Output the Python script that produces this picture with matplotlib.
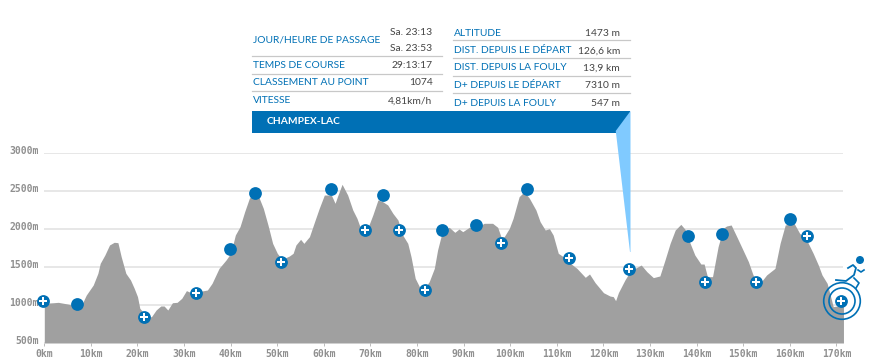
import matplotlib
matplotlib.use('Agg')
import matplotlib.pyplot as plt
from matplotlib.transforms import Bbox, ScaledTranslation

W, H = 871, 364

# Profil altimetrique (km, m)
km = [0, 2, 3, 5, 6.5, 8, 9, 10.5, 11.5, 12, 13, 14, 15, 15.8, 16.5, 17.5, 18.5, 19.3, 20, 20.5,
      22, 23, 24, 25, 25.7, 26.5, 27.5, 28.5, 29.5, 30.5, 31.5, 33, 35, 36, 37.5, 39, 40, 41, 42, 43,
      44, 45, 46, 47, 48, 49, 50, 51, 52.6, 53.4, 54, 55, 55.7, 56.9, 58, 59, 60.1, 61.6, 62.4, 62.9,
      63.9, 65.1, 66.2, 67.1, 68, 69.4, 70.5, 71.6, 72.6, 73.7, 74.8, 75.9, 76.9, 78, 78.7, 79.6,
      80.5, 81.6, 82.6, 83.7, 84.4, 85.5, 86.9, 88.1, 89, 89.8, 91.2, 92.6, 94.4, 96.2, 97.3, 98,
      98.7, 99.8, 100.6, 101.9, 103, 104.1, 105.5, 106.4, 107.5, 108.4, 109.2, 110.3, 111.9, 112.9,
      114.3, 116.1, 117, 118.2, 120, 121.4, 122.1, 122.6, 123.2, 124.6, 125.7, 126.8, 128.1, 129.3,
      130.7, 132.1, 133.2, 134.3, 135.4, 136.6, 137.5, 138.6, 139.6, 140.9, 141.6, 142.3, 143.4,
      144.6, 145.7, 146.4, 147.4, 148.6, 149.6, 151.1, 152.1, 153.6, 155, 156.8, 157.9, 159, 160.9,
      162.1, 163.6, 165, 166.1, 166.9, 168, 169.3, 171.5]
alt = [1022, 1030, 1035, 1013, 990, 1000, 1130, 1263, 1417, 1548, 1658, 1790, 1825, 1820, 1636, 1417,
       1329, 1219, 1110, 956, 846, 846, 934, 987, 987, 934, 1030, 1035, 1088, 1189, 1162, 1175, 1197,
       1285, 1482, 1592, 1680, 1921, 2031, 2228, 2404, 2470, 2425, 2272, 2053, 1811, 1680, 1600, 1645,
       1680, 1790, 1864, 1811, 1899, 2096, 2272, 2447, 2447, 2338, 2425, 2588, 2447, 2250, 2140, 1987,
       2009, 2184, 2382, 2360, 2316, 2206, 2118, 1921, 1811, 1636, 1351, 1241, 1219, 1307, 1482, 1724,
       1987, 2022, 1956, 2000, 1965, 2022, 2009, 2075, 2075, 2022, 1899, 1899, 2009, 2140, 2425, 2491,
       2404, 2250, 2096, 1987, 2004, 1921, 1680, 1614, 1548, 1482, 1364, 1408, 1294, 1162, 1118, 1110,
       1057, 1162, 1329, 1439, 1482, 1526, 1439, 1360, 1382, 1592, 1811, 1987, 2061, 1996, 1811, 1658,
       1539, 1539, 1373, 1373, 1768, 2009, 2039, 2053, 1899, 1768, 1570, 1395, 1285, 1395, 1482, 1811,
       2053, 2075, 1943, 1855, 1680, 1526, 1395, 1285, 978, 1000]

# Ravitaillements et points de passage
plus_km = [-0.36, 21.5, 32.5, 50.7, 68.9, 76.2, 81.7, 98.1, 112.6, 125.5, 141.8, 152.7, 163.6, 170.9]
plus_alt = [1053, 846, 1158, 1566, 1987, 1987, 1197, 1816, 1618, 1474, 1303, 1303, 1908, 1053]
solid_km = [7.0, 39.8, 45.3, 61.6, 72.6, 85.4, 92.7, 103.6, 138.2, 145.4, 160]
solid_alt = [1017, 1741, 2478, 2526, 2447, 1987, 2053, 2526, 1908, 1934, 2132]

y_ticks = [500, 1000, 1500, 2000, 2500, 3000]
x_ticks = list(range(0, 171, 10))

left_rows = [('JOUR/HEURE DE PASSAGE', 39), ('TEMPS DE COURSE', 64.3),
             ('CLASSEMENT AU POINT', 82), ('VITESSE', 100)]
left_values = [('Sa. 23:13', 31.7), ('Sa. 23:53', 47.3), ('29:13:17', 64.3), ('1074', 82), ('4,81km/h', 100)]
right_rows = [('ALTITUDE', '1473 m', 32.3), ('DIST. DEPUIS LE DÉPART', '126,6 km', 50),
              ('DIST. DEPUIS LA FOULY', '13,9 km', 67), ('D+ DEPUIS LE DÉPART', '7310 m', 85),
              ('D+ DEPUIS LA FOULY', '547 m', 103)]

BLUE = '#0070b5'
LIGHT = '#80caff'
TXT = '#444444'
GREY = '#a0a0a0'

fig = plt.figure(figsize=(W / 100, H / 100), dpi=100)

# zone du graphique : 0 km a x=44.3 px, 500 m a y=343 px, 3000 m a y=153 px
ax = fig.add_axes([44.3 / W, 1 - 343 / H, (843 - 44.3) / W, 190 / H])
ax.set_xlim(0, 171.4)
ax.set_ylim(500, 3000)
ax.fill_between(km, alt, 500, color=GREY, lw=0, zorder=2)
ax.set_yticks(y_ticks)
ax.set_yticklabels([f'{v}m' for v in y_ticks])
ax.set_xticks(x_ticks)
ax.set_xticklabels([f'{v}km' for v in x_ticks])
ax.grid(axis='y', color='#e0e0e0', lw=1.1, zorder=1)
ax.set_axisbelow(True)
for s in ax.spines.values():
    s.set_visible(False)
ax.tick_params(axis='y', length=0, pad=4, labelsize=7, labelcolor='#909090')
ax.tick_params(axis='x', length=2, width=0.7, color='#bbbbbb', pad=2.5, labelsize=7, labelcolor='#909090')
clip = Bbox([[0, 0], [851, H]])
for lab in ax.get_xticklabels() + ax.get_yticklabels():
    lab.set_family('DejaVu Sans Mono')
    lab.set_weight('bold')
lift = ScaledTranslation(0, 0.027, fig.dpi_scale_trans)
for lab in ax.get_yticklabels():
    lab.set_transform(lab.get_transform() + lift)
for lab in ax.get_xticklabels():
    lab.set_clip_on(True)
    lab.set_clip_box(clip)

ax.plot(solid_km, solid_alt, 'o', color=BLUE, ms=9.2, mew=0, clip_on=False, zorder=5)
ax.plot(plus_km, plus_alt, 'o', color=BLUE, ms=9.2, mew=0, clip_on=False, zorder=5)
ax.plot(plus_km, plus_alt, 'P', color='white', ms=6, mew=0, clip_on=False, zorder=7)

# panneau d'information, coordonnees en pixels
ov = fig.add_axes([0, 0, 1, 1])
ov.set_xlim(0, W)
ov.set_ylim(H, 0)
ov.axis('off')
ov.patch.set_alpha(0)

font = dict(family='Lato', fontsize=7.4, va='center')
for label, y in left_rows:
    ov.text(253, y + 0.8, label, color=BLUE, ha='left', **font)
for value, y in left_values:
    ov.text(432.5, y + 0.8, value, color=TXT, ha='right', **font)
for label, value, y in right_rows:
    ov.text(453.5, y + 0.8, label, color=BLUE, ha='left', **font)
    ov.text(620, y + 0.8, value, color=TXT, ha='right', **font)
for y in [55.7, 73.7, 90.7]:
    ov.plot([252, 442], [y, y], color='#c8c8c8', lw=0.9)
for y in [40.3, 58.3, 76.3, 93.3]:
    ov.plot([453, 630], [y, y], color='#c8c8c8', lw=0.9)

ov.fill([252, 630, 630, 252], [111, 111, 132.7, 132.7], color=BLUE, lw=0)
ov.fill([630.5, 615.7, 616, 630, 630.5], [111, 131, 133, 252, 252], color=LIGHT, lw=0)
ov.text(267, 121, 'CHAMPEX-LAC', color='white', family='Lato', fontsize=7.4, weight='bold', va='center', ha='left')

# arrivee : cercles et coureur
for r in (18.3, 13):
    ov.add_patch(plt.Circle((842, 301), r, fc='none', ec=BLUE, lw=1.2, clip_on=False))
ov.add_patch(plt.Circle((860, 260), 4, fc=BLUE, ec='none'))
ov.plot([836, 846, 854, 856, 853, 848], [280, 281, 275, 268, 265, 268], color=BLUE, lw=1.3)
ov.plot([854, 859, 856], [278, 283, 288], color=BLUE, lw=1.2)
ov.plot([858, 861, 864], [270, 272, 270], color=BLUE, lw=1.2)

fig.savefig('out.png', dpi=100)
